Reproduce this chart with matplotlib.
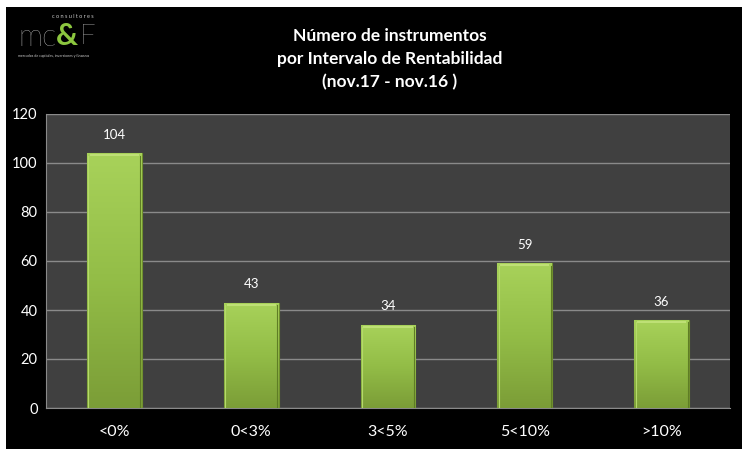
import numpy as np
import matplotlib.pyplot as plt
from matplotlib.colors import LinearSegmentedColormap

# --- data ---
categorias = ['<0%', '0<3%', '3<5%', '5<10%', '>10%']
valores = [104, 43, 34, 59, 36]
yticks = [0, 20, 40, 60, 80, 100, 120]
titulo = 'Número de instrumentos\npor Intervalo de Rentabilidad\n(nov.17 - nov.16 )'

plt.rcParams['font.family'] = ['Lato', 'DejaVu Sans']

fig = plt.figure(figsize=(7.42, 4.49), dpi=100, facecolor='white')
# black panel with thin white margin at top/left
bg = fig.add_axes([6/742, 0, 736/742, 442/449])
bg.set_facecolor('black')
bg.set_xticks([]); bg.set_yticks([])
for s in bg.spines.values():
    s.set_visible(False)

ax = fig.add_axes([46/742, 41/449, 684/742, 294/449])
ax.set_facecolor('#404040')
x = np.arange(len(categorias))
bars = ax.bar(x, valores, width=0.4, color='#96c049', edgecolor='#6f8f2e',
              linewidth=0.8, zorder=3)

# vertical gradient on each bar
cmap = LinearSegmentedColormap.from_list('verde', ['#7b9d37', '#93bd47', '#a8d25a'])
grad = np.linspace(0, 1, 256).reshape(-1, 1)
for b in bars:
    x0, w, h = b.get_x(), b.get_width(), b.get_height()
    im = ax.imshow(grad, cmap=cmap, origin='lower', aspect='auto',
                   extent=[x0, x0 + w, 0, h], zorder=3.5)
    im.set_clip_path(b)
    # bevel highlight along the top edge
    ax.plot([x0 + 0.02, x0 + w - 0.02], [h - 0.8, h - 0.8], color='#c4e47c',
            lw=1.2, zorder=4, solid_capstyle='butt')
    ax.plot([x0 + 0.01, x0 + 0.01], [0, h - 1], color='#b5da6a', lw=0.8, zorder=4)
    ax.plot([x0 + w - 0.01, x0 + w - 0.01], [0, h - 1], color='#5f7d25', lw=0.8, zorder=4)
    ax.text(x0 + w / 2, h + 5, str(int(h)), ha='center', va='bottom',
            color='white', fontsize=9.5, zorder=5)

ax.set_xlim(-0.5, len(categorias) - 0.5)
ax.set_ylim(0, 120)
ax.set_yticks(yticks)
ax.set_xticks(x)
ax.set_xticklabels(categorias)
ax.grid(axis='y', color='#8a8a8a', lw=1, zorder=1)
ax.tick_params(axis='both', length=0, colors='white')
ax.tick_params(axis='y', labelsize=10.5, pad=6)
ax.tick_params(axis='x', labelsize=11.5, pad=12)
for side in ['top', 'right']:
    ax.spines[side].set_visible(False)
ax.spines['left'].set_color('#8a8a8a')
ax.spines['bottom'].set_color('#8a8a8a')

# title
fig.text(390/742, 1 - 59/449, titulo, ha='center', va='center', color='white',
         fontsize=12.5, fontweight='bold', linespacing=1.55)

# logo
fig.text(52/742, 1 - 17/449, 'c o n s u l t o r e s', color='#cccccc',
         fontsize=4, ha='left', va='center')
fig.text(18/742, 1 - 37/449, 'mc', color='white', fontsize=22, ha='left',
         va='center', fontweight='light')
fig.text(56/742, 1 - 36/449, '&', color='#8cc63f', fontsize=22, ha='left',
         va='center', fontweight='bold')
fig.text(80/742, 1 - 37/449, 'F', color='white', fontsize=20, ha='left',
         va='center', fontweight='light')
fig.text(18/742, 1 - 56/449, 'mercados de capitales, inversiones y finanzas',
         color='#cccccc', fontsize=2.6, ha='left', va='center')

fig.savefig('out.png', dpi=100, facecolor=fig.get_facecolor())
